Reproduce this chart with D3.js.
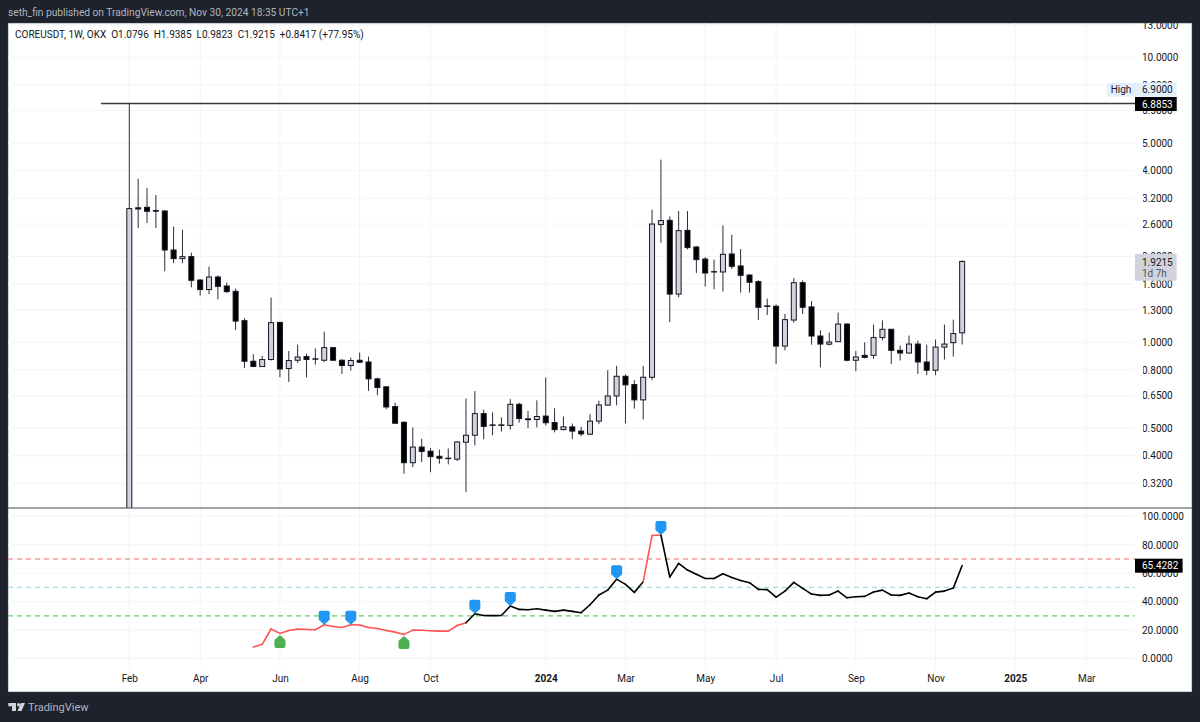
<!DOCTYPE html>
<html>
<head>
<meta charset="utf-8">
<script src="https://cdn.jsdelivr.net/npm/d3@7"></script>
<style>
  html, body { margin: 0; padding: 0; background: #1e222d; }
  svg { display: block; }
  text { font-family: Roboto, "Noto Sans", sans-serif; }
  .domain { display: none; }
</style>
</head>
<body>
<div id="chart"></div>
<script>
// weekly candles, first one is the week of Feb 6 2023
var opens = [0.20,2.964,2.976,2.90,2.889,2.108,1.966,1.998,1.654,1.531,
  1.695,1.576,1.510,1.191,0.858,0.822,0.870,1.175,0.809,0.865,
  0.891,0.875,0.865,0.958,0.865,0.829,0.865,0.853,0.744,0.698,
  0.595,0.524,0.378,0.429,0.415,0.398,0.392,0.389,0.446,0.472,
  0.562,0.513,0.513,0.511,0.606,0.539,0.536,0.551,0.523,0.494,
  0.505,0.488,0.476,0.529,0.602,0.648,0.760,0.711,0.628,0.754,
  2.588,2.680,1.476,2.471,2.160,1.959,1.770,1.765,2.041,1.853,
  1.722,1.633,1.342,1.338,0.970,1.197,1.619,1.331,1.052,0.985,
  1.005,1.159,0.865,0.900,0.900,1.039,1.111,0.937,0.917,0.986,
  0.853,0.798,0.962,0.997,1.0796];
var highs = [6.90,3.75,3.48,3.288,2.905,2.546,2.485,2.064,1.663,1.843,
  1.718,1.619,1.543,1.216,0.908,0.896,1.435,1.178,0.932,0.981,
  0.912,0.952,1.090,0.962,0.872,0.884,0.920,0.891,0.752,0.700,
  0.614,0.529,0.503,0.459,0.426,0.420,0.424,0.449,0.635,0.674,
  0.580,0.568,0.545,0.632,0.614,0.574,0.626,0.752,0.587,0.549,
  0.519,0.505,0.560,0.624,0.798,0.827,0.771,0.736,0.827,2.921,
  4.375,2.768,2.889,2.889,2.178,1.991,1.950,2.573,2.386,2.125,
  1.732,1.650,1.423,1.358,1.258,1.678,1.650,1.395,1.102,1.082,
  1.271,1.166,0.932,1.000,1.154,1.194,1.114,0.974,1.056,1.014,
  0.981,1.022,1.154,1.201,1.9385];
var lows = [0.18,2.517,2.622,2.517,1.775,1.897,1.897,1.559,1.459,1.476,
  1.415,1.489,1.105,0.813,0.820,0.820,0.863,0.754,0.726,0.846,
  0.754,0.835,0.853,0.863,0.774,0.796,0.846,0.675,0.652,0.582,
  0.517,0.346,0.365,0.380,0.350,0.375,0.373,0.383,0.298,0.435,
  0.457,0.472,0.486,0.494,0.522,0.500,0.503,0.511,0.483,0.491,
  0.458,0.468,0.473,0.516,0.600,0.601,0.519,0.585,0.536,0.738,
  2.238,1.178,1.440,2.120,1.750,1.570,1.534,1.506,1.808,1.495,
  1.495,1.197,1.247,0.840,0.937,1.172,1.257,0.981,0.817,0.974,
  1.003,0.858,0.792,0.878,0.874,1.016,0.840,0.863,0.912,0.774,
  0.767,0.767,0.870,0.891,0.9823];
var closes = [2.945,2.936,2.882,2.885,2.108,1.966,1.998,1.650,1.531,1.695,
  1.572,1.506,1.187,0.858,0.822,0.870,1.172,0.806,0.863,0.888,
  0.870,0.873,0.958,0.865,0.829,0.863,0.851,0.744,0.694,0.593,
  0.520,0.378,0.429,0.414,0.397,0.392,0.391,0.447,0.472,0.562,
  0.507,0.511,0.511,0.606,0.540,0.535,0.549,0.522,0.494,0.505,
  0.488,0.477,0.529,0.603,0.648,0.760,0.709,0.628,0.754,2.600,
  2.673,1.476,2.465,2.149,1.950,1.750,1.765,2.036,1.848,1.718,
  1.624,1.327,1.336,0.970,1.201,1.619,1.327,1.052,0.986,1.002,
  1.159,0.865,0.888,0.885,1.039,1.111,0.937,0.917,0.986,0.853,
  0.798,0.962,0.986,1.073,1.9215];

// oscillator starts at candle 14
var oscStart = 14;
var oscValues = [8.0,9.9,20.7,17.6,19.7,20.6,20.4,20.2,23.7,22.5,
  21.8,23.7,23.5,21.8,21.1,19.7,18.5,16.9,19.9,19.8,
  19.5,19.2,19.2,23.2,25.1,31.4,30.2,30.1,30.2,36.9,
  34.5,34.3,35.0,34.0,33.1,34.0,33.1,32.2,37.8,44.6,
  48.1,55.8,52.1,46.5,54.0,86.6,86.9,57.3,66.9,62.2,
  59.2,56.3,56.3,59.6,57.0,54.9,53.3,48.6,48.4,43.2,
  47.4,53.5,49.3,45.3,44.4,44.6,47.4,42.7,43.4,43.7,
  46.7,48.1,44.6,44.4,46.0,43.4,42.0,46.7,47.4,49.5,65.4282];
var sellSignals = [22, 25, 39, 43, 55, 60];
var buySignals = [17, 31];
var oscLevels = [70, 50, 30];
var levelColors = ["#fb9a9e", "#9be3ea", "#63cc68"];

var priceTicks = [13, 10, 8, 6.5, 5, 4, 3.2, 2.6, 2, 1.6, 1.3, 1, 0.8, 0.65, 0.5, 0.4, 0.32];
var oscTicks = [100, 80, 60, 40, 20, 0];
var timeTicks = [0, 8, 17, 26, 34, 47, 56, 65, 73, 82, 91, 100, 108];
var timeLabels = ["Feb", "Apr", "Jun", "Aug", "Oct", "2024", "Mar", "May", "Jul", "Sep", "Nov", "2025", "Mar"];
var highPrice = 6.9;
var linePrice = 6.8853;

// layout
var svgWidth = 1200, svgHeight = 722;
var frame = { left: 8, right: 1192, top: 23, bottom: 692 };
var axisX = 1135;
var priceBottom = 508, oscBottom = 668;

var x = d3.scaleLinear().domain([0, 108]).range([129.3, 1086.2]);
var yPrice = d3.scaleLog().domain([0.1, 10]).range([627.3, 57.3]);
var yOsc = d3.scaleLinear().domain([0, 100]).range([658.4, 516.4]);

var svg = d3.select("#chart").append("svg")
  .attr("width", svgWidth)
  .attr("height", svgHeight);

svg.append("rect")
  .attr("x", frame.left).attr("y", frame.top)
  .attr("width", frame.right - frame.left)
  .attr("height", frame.bottom - frame.top)
  .attr("fill", "#fff")
  .attr("stroke", "#434651")
  .attr("stroke-width", 0.5);

var defs = svg.append("defs");
defs.append("clipPath").attr("id", "pricePane").append("rect")
  .attr("x", frame.left).attr("y", frame.top)
  .attr("width", axisX - frame.left).attr("height", priceBottom - frame.top);
defs.append("clipPath").attr("id", "frameClip").append("rect")
  .attr("x", frame.left).attr("y", frame.top)
  .attr("width", frame.right - frame.left).attr("height", frame.bottom - frame.top);

// grid
var gridColor = "#f4f4f6";
svg.append("g").selectAll("line").data(timeTicks).enter().append("line")
  .attr("x1", d => x(d)).attr("x2", d => x(d))
  .attr("y1", frame.top).attr("y2", oscBottom)
  .attr("stroke", gridColor);
svg.append("g").selectAll("line").data(priceTicks).enter().append("line")
  .attr("x1", frame.left).attr("x2", axisX)
  .attr("y1", d => yPrice(d)).attr("y2", d => yPrice(d))
  .attr("stroke", gridColor)
  .attr("clip-path", "url(#frameClip)");
svg.append("g").selectAll("line").data(oscTicks).enter().append("line")
  .attr("x1", frame.left).attr("x2", axisX)
  .attr("y1", d => yOsc(d)).attr("y2", d => yOsc(d))
  .attr("stroke", gridColor);

// candles
var candles = opens.map((o, i) => ({ i: i, o: o, h: highs[i], l: lows[i], c: closes[i] }));
var candleGroup = svg.append("g").attr("clip-path", "url(#pricePane)");

candleGroup.selectAll(".wick").data(candles).enter().append("line")
  .attr("class", "wick")
  .attr("x1", d => x(d.i)).attr("x2", d => x(d.i))
  .attr("y1", d => yPrice(d.h)).attr("y2", d => yPrice(d.l))
  .attr("stroke", "#2a2e39")
  .attr("stroke-width", 1);

candleGroup.selectAll(".body").data(candles).enter().append("rect")
  .attr("class", "body")
  .attr("x", d => x(d.i) - 2.5)
  .attr("width", 5)
  .attr("y", d => yPrice(Math.max(d.o, d.c)))
  .attr("height", d => Math.max(0.4, Math.abs(yPrice(d.o) - yPrice(d.c))))
  .attr("fill", d => d.c >= d.o ? "#d1d4dc" : "#000")
  .attr("stroke", "#131722")
  .attr("stroke-width", 1);

// horizontal line at 6.8853
candleGroup.append("line")
  .attr("x1", x(-3.2)).attr("x2", axisX)
  .attr("y1", yPrice(linePrice)).attr("y2", yPrice(linePrice))
  .attr("stroke", "#3a3a3a")
  .attr("stroke-width", 1.3);

// pane separator
svg.append("line")
  .attr("x1", frame.left).attr("x2", frame.right)
  .attr("y1", priceBottom).attr("y2", priceBottom)
  .attr("stroke", "#434651");

// oscillator levels
svg.append("g").selectAll("line").data(oscLevels).enter().append("line")
  .attr("x1", frame.left).attr("x2", axisX)
  .attr("y1", d => yOsc(d)).attr("y2", d => yOsc(d))
  .attr("stroke", (d, i) => levelColors[i])
  .attr("stroke-width", (d, i) => i == 0 ? 1.6 : 1.3)
  .attr("stroke-dasharray", "5,4");

// oscillator line, red outside the 30-70 band
var oscLine = d3.line().x(d => x(d.i)).y(d => yOsc(d.v));
var oscPoints = oscValues.map((v, k) => ({ i: k + oscStart, v: v }));
var oscSegments = d3.pairs(oscPoints);

svg.append("g").selectAll("path").data(oscSegments).enter().append("path")
  .attr("d", oscLine)
  .attr("fill", "none")
  .attr("stroke", d => (d[1].v < 30 || d[1].v > 70) ? "#ff5252" : "#000")
  .attr("stroke-width", 1.6)
  .attr("stroke-linecap", "round");

function oscAt(i) { return oscValues[i - oscStart]; }

// blue shields sit above the line, green ones below it
svg.append("g").selectAll("path").data(sellSignals).enter().append("path")
  .attr("transform", d => `translate(${x(d)}, ${yOsc(oscAt(d))})`)
  .attr("d", "M0,0 L-5.5,-5 L-5.5,-12 Q-5.5,-14 -3.5,-14 L3.5,-14 Q5.5,-14 5.5,-12 L5.5,-5 Z")
  .attr("fill", "#2196f3");

svg.append("g").selectAll("path").data(buySignals).enter().append("path")
  .attr("transform", d => `translate(${x(d)}, ${yOsc(oscAt(d))})`)
  .attr("d", "M0,1.5 L5.5,6.5 L5.5,12.5 Q5.5,14.5 3.5,14.5 L-3.5,14.5 Q-5.5,14.5 -5.5,12.5 L-5.5,6.5 Z")
  .attr("fill", "#4caf50");

// axes
var axisFont = 10;
var priceAxis = d3.axisRight(yPrice)
  .tickValues(priceTicks)
  .tickFormat(d3.format(".4f"))
  .tickSize(0)
  .tickPadding(7);
svg.append("g")
  .attr("transform", `translate(${axisX}, 0)`)
  .attr("clip-path", "url(#frameClip)")
  .call(priceAxis)
  .attr("font-size", axisFont)
  .attr("font-family", null)
  .selectAll("text").attr("fill", "#131722");

var oscAxis = d3.axisRight(yOsc)
  .tickValues(oscTicks)
  .tickFormat(d3.format(".4f"))
  .tickSize(0)
  .tickPadding(7);
svg.append("g")
  .attr("transform", `translate(${axisX}, 0)`)
  .call(oscAxis)
  .attr("font-size", axisFont)
  .attr("font-family", null)
  .selectAll("text").attr("fill", "#131722");

var timeAxis = d3.axisBottom(x)
  .tickValues(timeTicks)
  .tickFormat((d, i) => timeLabels[i])
  .tickSize(0)
  .tickPadding(7);
svg.append("g")
  .attr("transform", `translate(0, ${oscBottom})`)
  .call(timeAxis)
  .attr("font-size", axisFont)
  .attr("font-family", null)
  .selectAll("text")
  .attr("fill", "#131722")
  .attr("font-weight", (d, i) => timeLabels[i].length == 4 ? "bold" : "normal");

// price labels on the axis
function axisLabel(y1, y2, width, fill) {
  svg.append("rect")
    .attr("x", axisX).attr("y", y1)
    .attr("width", width).attr("height", y2 - y1)
    .attr("fill", fill);
}
function labelText(str, tx, ty, color, anchor) {
  svg.append("text")
    .attr("x", tx).attr("y", ty)
    .attr("font-size", axisFont)
    .attr("fill", color)
    .attr("text-anchor", anchor || "start")
    .text(str);
}

var fmt = d3.format(".4f");
svg.append("rect").attr("x", 1107).attr("y", 82.7).attr("width", 28).attr("height", 14).attr("fill", "#e3effd");
axisLabel(82.7, 96.7, 41.7, "#e3effd");
labelText("High", 1121, 93.2, "#131722", "middle");
labelText(fmt(highPrice), 1142, 93.2, "#131722");
axisLabel(97, 111, 41.7, "#000");
labelText(fmt(linePrice), 1142, 107.5, "#fff");

axisLabel(254, 280.7, 41.7, "#d1d4dc");
labelText(fmt(closes[closes.length - 1]), 1142, 265.5, "#131722");
labelText("1d 7h", 1142, 277, "#50535e");

axisLabel(558.7, 572.7, 47.6, "#000");
labelText(fmt(oscValues[oscValues.length - 1]), 1142, 569.3, "#fff");

// header, legend, footer
svg.append("text").attr("x", 8).attr("y", 16)
  .attr("font-size", 10.2).attr("fill", "#b2b5be")
  .text("seth_fin published on TradingView.com, Nov 30, 2024 18:35 UTC+1");

var legend = svg.append("text").attr("x", 15).attr("y", 38)
  .attr("font-size", 10).attr("fill", "#131722").attr("xml:space", "preserve");
legend.text("COREUSDT, 1W, OKX  O1.0796  H1.9385  L0.9823  C1.9215  +0.8417 (+77.95%)");

svg.append("path")
  .attr("d", "M8.3,703 H16 V711 H12 V706.3 H8.3 Z M17,704.7 a1.7,1.7 0 1 0 3.4,0 a1.7,1.7 0 1 0 -3.4,0 Z M21,703 H25 L21.5,711 H17.5 Z")
  .attr("fill", "#d1d4dc");
svg.append("text").attr("x", 28).attr("y", 711)
  .attr("font-size", 11).attr("fill", "#b2b5be")
  .text("TradingView");
</script>
</body>
</html>
